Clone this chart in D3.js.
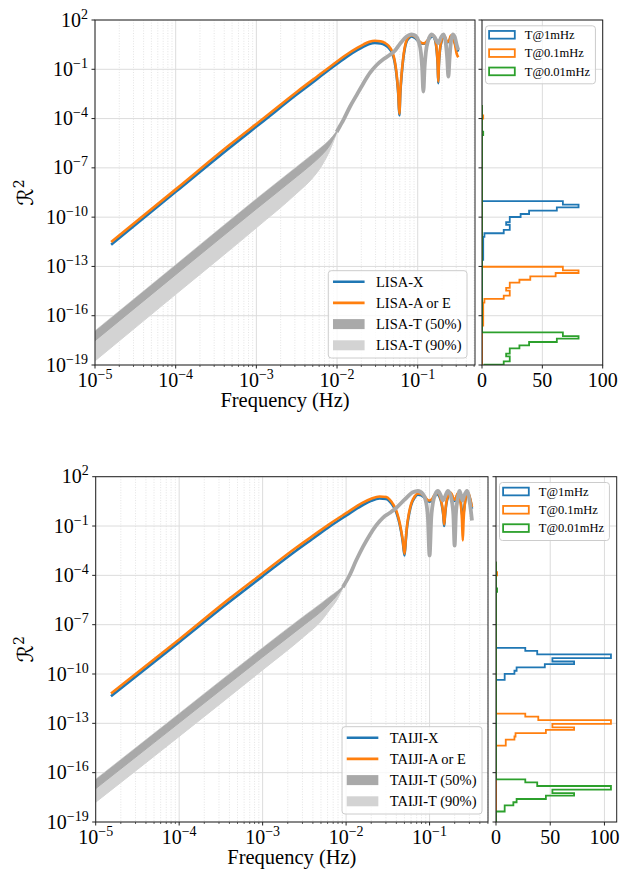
<!DOCTYPE html>
<html>
<head>
<meta charset="utf-8">
<script src="https://cdn.jsdelivr.net/npm/d3@7"></script>
<style>
  body { margin: 0; background: #fff; }
  text { font-family: "Liberation Serif", "DejaVu Serif", serif; fill: #000; }
</style>
</head>
<body>
<svg id="fig" width="633" height="871"></svg>
<script>
// all curve values are log10 of frequency (Hz) and log10 of R^2

var blue = "#1f77b4", orange = "#ff7f0e", green = "#2ca02c";
var darkGray = "#a9a9a9", lightGray = "#d3d3d3";

var yTickExp = [2, -1, -4, -7, -10, -13, -16, -19];
var histTicks = [0, 50, 100];

// ---- LISA ----
var lisaLogF = [-4.80, -4.0, -3.33, -2.91, -2.5, -2.25, -2.09, -1.88, -1.75, -1.67, -1.6, -1.53, -1.46, -1.405, -1.36, -1.323, -1.295, -1.274, -1.255, -1.24, -1.228, -1.215, -1.2, -1.18, -1.16, -1.137, -1.105, -1.075, -1.04, -1.0, -0.96, -0.92, -0.88, -0.845, -0.815, -0.785, -0.765, -0.752, -0.745, -0.738, -0.725, -0.70, -0.68, -0.66, -0.635, -0.61, -0.59, -0.565, -0.54, -0.52, -0.497];
var lisaX = [-11.68, -8.46, -5.77, -4.14, -2.54, -1.6, -1.0, -0.24, 0.16, 0.38, 0.54, 0.6, 0.57, 0.47, 0.3, 0.05, -0.35, -0.9, -1.7, -2.6, -3.8, -2.4, -1.4, -0.4, 0.27, 0.7, 0.92, 1.0, 0.92, 0.76, 0.6, 0.55, 0.68, 0.92, 1.0, 0.78, 0.12, -0.8, -1.85, -0.8, 0.12, 0.77, 0.99, 0.88, 0.64, 0.7, 0.97, 0.9, 0.6, 0.3, 0.07];
var lisaAE = [-11.51, -8.31, -5.6, -3.98, -2.38, -1.45, -0.86, -0.1, 0.3, 0.52, 0.68, 0.74, 0.70, 0.6, 0.42, 0.16, -0.25, -0.8, -1.6, -2.5, -3.7, -2.3, -1.3, -0.3, 0.35, 0.78, 1.0, 1.08, 1.0, 0.82, 0.62, 0.58, 0.75, 1.0, 1.08, 0.85, 0.2, -0.7, -1.75, -0.7, 0.2, 0.85, 1.07, 0.95, 0.68, 0.75, 1.05, 0.95, 0.55, 0.0, -0.27];
var lisaBandLogF = [-5.0, -4.0, -3.0, -2.5, -2.3, -2.2, -2.1, -2.005];
var lisaT50Hi = [-16.97, -12.95, -8.93, -6.98, -6.2, -5.8, -5.36, -4.8];
var lisaT50Lo = [-17.52, -13.5, -9.5, -7.53, -6.72, -6.27, -5.7, -4.86];
var lisaT90Hi = [-16.92, -12.9, -8.88, -6.93, -6.15, -5.76, -5.33, -4.78];
var lisaT90Lo = [-18.75, -14.7, -10.65, -8.55, -7.6, -6.95, -6.05, -4.88];
var lisaTLogF = [-2.005, -1.96, -1.922, -1.84, -1.757, -1.674, -1.59, -1.509, -1.426, -1.344, -1.28, -1.22, -1.16, -1.11, -1.075, -1.03, -0.99, -0.96, -0.945, -0.93, -0.915, -0.90, -0.87, -0.827, -0.79, -0.745, -0.71, -0.68, -0.655, -0.635, -0.62, -0.605, -0.59, -0.567, -0.54, -0.515, -0.497];
var lisaTLine = [-4.82, -4.42, -4.09, -3.28, -2.57, -1.86, -1.21, -0.74, -0.39, -0.12, 0.15, 0.55, 0.9, 1.08, 1.13, 1.05, 0.7, 0.0, -0.9, -2.36, -0.9, 0.0, 0.75, 1.13, 0.95, 0.6, 0.95, 1.13, 0.7, -0.3, -1.45, -0.3, 0.6, 1.13, 0.95, 0.45, 0.17];

// T-channel histograms: log10 bin edges (top to bottom) and counts per bin
var lisaH1Edges = [-9.02, -9.24, -9.40, -9.60, -9.81, -9.99, -10.31, -10.47, -10.78, -10.98, -11.2, -11.6, -12.6];
var lisaH1Counts = [67, 80, 62, 39, 32, 23, 20, 23, 18, 2, 1, 1];
var lisaH01Edges = [-3.8, -4.0, -13.02, -13.24, -13.40, -13.60, -13.81, -13.99, -14.31, -14.47, -14.78, -14.98, -15.2, -15.6, -16.6];
var lisaH01Counts = [1, 0, 67, 80, 61, 40, 31, 23, 20, 23, 18, 2, 1, 1];
var lisaH001Edges = [-4.8, -5.0, -17.02, -17.24, -17.40, -17.60, -17.81, -17.99, -18.31, -18.47, -18.78, -18.98, -19.2];
var lisaH001Counts = [1, 0, 67, 80, 62, 39, 31, 23, 20, 23, 18, 2];

// ---- TAIJI ----
var taijiLogF = [-4.817, -4.0, -3.4, -3.0, -2.6, -2.4, -2.2, -2.0, -1.8, -1.7, -1.6, -1.52, -1.48, -1.44, -1.40, -1.37, -1.34, -1.32, -1.30, -1.285, -1.272, -1.25, -1.22, -1.18, -1.14, -1.10, -1.06, -1.03, -1.0, -0.97, -0.94, -0.91, -0.88, -0.855, -0.835, -0.825, -0.815, -0.80, -0.78, -0.76, -0.735, -0.715, -0.70, -0.685, -0.665, -0.645, -0.625, -0.612, -0.602, -0.592, -0.578, -0.56, -0.535, -0.51, -0.492];
var taijiX = [-11.35, -8.06, -5.62, -4.05, -2.5, -1.77, -1.04, -0.37, 0.28, 0.53, 0.67, 0.64, 0.51, 0.25, -0.15, -0.65, -1.37, -2.0, -2.79, -1.9, -1.16, -0.4, 0.28, 0.72, 0.9, 0.87, 0.72, 0.55, 0.48, 0.58, 0.82, 0.94, 0.77, 0.32, -0.38, -1.0, -0.38, 0.32, 0.77, 0.97, 0.87, 0.62, 0.52, 0.62, 0.9, 0.83, 0.4, -0.2, -0.5, -0.2, 0.35, 0.8, 0.92, 0.55, 0.05];
var taijiAE = [-11.19, -7.9, -5.43, -3.87, -2.32, -1.6, -0.88, -0.22, 0.42, 0.66, 0.80, 0.76, 0.62, 0.35, -0.05, -0.55, -1.27, -1.9, -2.69, -1.8, -1.06, -0.3, 0.36, 0.8, 0.98, 0.95, 0.8, 0.62, 0.55, 0.65, 0.9, 1.02, 0.85, 0.4, -0.3, -0.9, -0.3, 0.4, 0.85, 1.05, 0.95, 0.7, 0.6, 0.7, 0.98, 0.9, 0.3, -0.6, -1.88, -0.6, 0.3, 0.85, 1.0, 0.6, 0.15];
var taijiBandLogF = [-5.0, -4.0, -3.0, -2.5, -2.3, -2.2, -2.1, -2.04];
var taijiT50Hi = [-16.45, -12.45, -8.45, -6.5, -5.75, -5.35, -4.97, -4.7];
var taijiT50Lo = [-16.97, -12.97, -8.97, -7.0, -6.2, -5.72, -5.17, -4.76];
var taijiT90Hi = [-16.4, -12.4, -8.4, -6.45, -5.7, -5.3, -4.93, -4.68];
var taijiT90Lo = [-17.8, -13.8, -9.75, -7.7, -6.78, -6.12, -5.4, -4.78];
var taijiTLogF = [-2.04, -1.96, -1.88, -1.80, -1.72, -1.64, -1.56, -1.48, -1.40, -1.30, -1.2, -1.14, -1.08, -1.04, -1.02, -1.0, -0.98, -0.96, -0.93, -0.90, -0.865, -0.84, -0.81, -0.78, -0.74, -0.715, -0.70, -0.685, -0.665, -0.64, -0.62, -0.605, -0.585, -0.552, -0.52, -0.492];
var taijiTLine = [-4.72, -4.01, -3.1, -2.28, -1.57, -0.96, -0.5, -0.21, 0.1, 0.6, 1.05, 1.13, 0.95, 0.4, -0.5, -2.79, -0.5, 0.4, 0.95, 1.13, 0.85, 0.55, 0.85, 1.13, 0.7, -0.3, -2.18, -0.3, 0.6, 1.13, 0.8, 0.55, 0.85, 1.13, 0.5, -0.66];

var taijiH1Edges = [-8.41, -8.59, -8.81, -9.03, -9.24, -9.40, -9.60, -9.80, -9.99, -10.36];
var taijiH1Counts = [27, 38, 106, 52, 72, 45, 19, 17, 8];
var taijiH01Edges = [-3.8, -4.0, -12.41, -12.59, -12.81, -13.03, -13.24, -13.40, -13.60, -13.80, -13.99, -14.36];
var taijiH01Counts = [1, 0, 27, 39, 106, 52, 72, 46, 18, 17, 9];
var taijiH001Edges = [-4.8, -5.0, -16.41, -16.59, -16.81, -17.03, -17.24, -17.40, -17.60, -17.80, -17.99, -18.36];
var taijiH001Counts = [1, 0, 27, 38, 106, 52, 72, 46, 19, 16, 8];

// range spanned by the histogram bins (log10)
var histRange = [-3.17, -20];

var svg = d3.select("#fig");
var p10 = function(v) { return Math.pow(10, v); };

function zip(fs, vs) {
  return fs.map(function(f, i) { return [p10(f), p10(vs[i])]; });
}
function band(fs, lo, hi) {
  return fs.map(function(f, i) { return { f: p10(f), lo: p10(lo[i]), hi: p10(hi[i]) }; });
}

function expLabel(t, e) {
  t.append("tspan").text("10");
  t.append("tspan").attr("dy", -8).attr("font-size", 14)
    .text(e < 0 ? "\u2212" + (-e) : "" + e);
}

function drawPanel(p) {
  var m = p.main, h = p.hist;
  var x = d3.scaleLog().domain([1e-5, p.xMax]).range([m.l, m.r]);
  var y = d3.scaleLog().domain([1e-19, 1e2]).range([m.b, m.t]);
  var hx = d3.scaleLinear().domain([0, p.histMax]).range([h.l, h.r]);
  var yTicks = yTickExp.map(p10);

  var defs = svg.append("defs");
  defs.append("clipPath").attr("id", "c-" + p.name)
    .append("rect").attr("x", m.l).attr("y", m.t).attr("width", m.r - m.l).attr("height", m.b - m.t);
  defs.append("clipPath").attr("id", "h-" + p.name)
    .append("rect").attr("x", h.l).attr("y", m.t).attr("width", h.r - h.l).attr("height", m.b - m.t);

  var g = svg.append("g");

  // grid
  var xt = x.ticks();
  var isMajor = function(d) { return Math.abs(Math.log10(d) - Math.round(Math.log10(d))) < 1e-6; };
  var minor = xt.filter(function(d) { return !isMajor(d); });
  var major = xt.filter(isMajor);

  g.selectAll(null).data(minor).join("line")
    .attr("x1", x).attr("x2", x).attr("y1", m.t).attr("y2", m.b)
    .attr("stroke", "#dddddd").attr("stroke-width", 0.8).attr("stroke-dasharray", "1,1.6");
  g.selectAll(null).data(major).join("line")
    .attr("x1", x).attr("x2", x).attr("y1", m.t).attr("y2", m.b)
    .attr("stroke", "#dcdcdc").attr("stroke-width", 1);
  g.selectAll(null).data(yTicks).join("line")
    .attr("x1", m.l).attr("x2", m.r).attr("y1", y).attr("y2", y)
    .attr("stroke", "#dcdcdc").attr("stroke-width", 1);

  // hist grid
  g.selectAll(null).data(histTicks).join("line")
    .attr("x1", hx).attr("x2", hx).attr("y1", m.t).attr("y2", m.b)
    .attr("stroke", "#dcdcdc").attr("stroke-width", 1);
  g.selectAll(null).data(yTicks).join("line")
    .attr("x1", h.l).attr("x2", h.r).attr("y1", y).attr("y2", y)
    .attr("stroke", "#dcdcdc").attr("stroke-width", 1);

  // curves
  var plot = g.append("g").attr("clip-path", "url(#c-" + p.name + ")");
  var line = d3.line().x(function(d) { return x(d[0]); }).y(function(d) { return y(d[1]); })
    .curve(d3.curveMonotoneX);
  var area = d3.area().x(function(d) { return x(d.f); })
    .y0(function(d) { return y(d.lo); }).y1(function(d) { return y(d.hi); })
    .curve(d3.curveMonotoneX);

  plot.append("path").attr("d", line(zip(p.logF, p.xVals)))
    .attr("fill", "none").attr("stroke", blue).attr("stroke-width", 2.6);
  plot.append("path").attr("d", line(zip(p.logF, p.aeVals)))
    .attr("fill", "none").attr("stroke", orange).attr("stroke-width", 2.6);
  plot.append("path").attr("d", area(band(p.bandF, p.t90Lo, p.t90Hi)))
    .attr("fill", lightGray).attr("stroke", lightGray).attr("stroke-width", 1);
  plot.append("path").attr("d", area(band(p.bandF, p.t50Lo, p.t50Hi)))
    .attr("fill", darkGray).attr("stroke", darkGray).attr("stroke-width", 1);
  plot.append("path").attr("d", line(zip(p.tF, p.tLine)))
    .attr("fill", "none").attr("stroke", darkGray).attr("stroke-width", 3.8);

  // histograms (step, horizontal)
  var hp = g.append("g").attr("clip-path", "url(#h-" + p.name + ")");
  p.hists.forEach(function(s) {
    var pts = [[0, histRange[0]], [0, s.edges[0]]];
    s.counts.forEach(function(c, i) { pts.push([c, s.edges[i]], [c, s.edges[i + 1]]); });
    pts.push([0, s.edges[s.edges.length - 1]], [0, histRange[1]]);
    hp.append("path")
      .attr("d", "M" + pts.map(function(d) { return hx(d[0]) + "," + y(p10(d[1])); }).join("L"))
      .attr("fill", "none").attr("stroke", s.color).attr("stroke-width", 1.8);
  });

  // spines
  var ax = svg.append("g");
  ax.append("rect").attr("x", m.l).attr("y", m.t).attr("width", m.r - m.l).attr("height", m.b - m.t)
    .attr("fill", "none").attr("stroke", "#222").attr("stroke-width", 1);
  ax.append("rect").attr("x", h.l).attr("y", m.t).attr("width", h.r - h.l).attr("height", m.b - m.t)
    .attr("fill", "none").attr("stroke", "#222").attr("stroke-width", 1);

  // ticks
  ax.selectAll(null).data(major).join("line")
    .attr("x1", x).attr("x2", x).attr("y1", m.b).attr("y2", m.b + 3.5).attr("stroke", "#222");
  ax.selectAll(null).data(minor).join("line")
    .attr("x1", x).attr("x2", x).attr("y1", m.b).attr("y2", m.b + 2).attr("stroke", "#222").attr("stroke-width", 0.7);
  ax.selectAll(null).data(yTicks).join("line")
    .attr("x1", m.l - 3.5).attr("x2", m.l).attr("y1", y).attr("y2", y).attr("stroke", "#222");
  ax.selectAll(null).data(yTicks).join("line")
    .attr("x1", h.l - 3.5).attr("x2", h.l).attr("y1", y).attr("y2", y).attr("stroke", "#222");
  ax.selectAll(null).data(histTicks).join("line")
    .attr("x1", hx).attr("x2", hx).attr("y1", m.b).attr("y2", m.b + 3.5).attr("stroke", "#222");

  // tick labels
  major.forEach(function(d) {
    var t = ax.append("text").attr("x", x(d)).attr("y", m.b + 21.5)
      .attr("text-anchor", "middle").attr("font-size", 20);
    expLabel(t, Math.round(Math.log10(d)));
  });
  yTickExp.forEach(function(e) {
    var t = ax.append("text").attr("x", m.l - 7).attr("y", y(p10(e)) + 6.5)
      .attr("text-anchor", "end").attr("font-size", 20);
    expLabel(t, e);
  });
  histTicks.forEach(function(d) {
    ax.append("text").attr("x", hx(d)).attr("y", m.b + 22)
      .attr("text-anchor", "middle").attr("font-size", 20).text(d);
  });

  // axis labels
  ax.append("text").attr("x", (m.l + m.r) / 2).attr("y", m.b + 42)
    .attr("text-anchor", "middle").attr("font-size", 20.5).text("Frequency (Hz)");
  var yl = ax.append("text")
    .attr("transform", "translate(33," + (m.t + m.b) / 2 + ") rotate(-90)")
    .attr("text-anchor", "middle").attr("font-size", 22)
    .style("font-family", '"DejaVu Serif", "DejaVu Sans", serif').style("font-style", "italic");
  yl.append("tspan").text("\u211B");
  yl.append("tspan").attr("dy", -9).attr("font-size", 14).style("font-style", "normal").text("2");

  // main legend
  var lg = svg.append("g");
  var box = lg.append("rect").attr("fill", "#fff").attr("fill-opacity", 0.8)
    .attr("stroke", "#cccccc").attr("stroke-width", 1).attr("rx", 3);
  var maxW = 0, rowH = 21.2, bh = 87.3;
  var top = m.b - p.legendBottom - bh;
  var texts = p.legend.map(function(it, i) {
    var t = lg.append("text").attr("y", top + 11 + i * rowH + 5).attr("font-size", 14.5).text(it.label);
    maxW = Math.max(maxW, t.node().getComputedTextLength());
    return t;
  });
  var bw = 4.7 + 31.6 + 11.4 + maxW + 5.5;
  var left = m.r - p.legendRight - bw;
  box.attr("x", left).attr("y", top).attr("width", bw).attr("height", bh);
  p.legend.forEach(function(it, i) {
    var cy = top + 11 + i * rowH;
    texts[i].attr("x", left + 4.7 + 31.6 + 11.4);
    if (it.type === "line") {
      lg.append("line").attr("x1", left + 4.7).attr("x2", left + 36.3).attr("y1", cy).attr("y2", cy)
        .attr("stroke", it.color).attr("stroke-width", 2.6);
    } else {
      lg.append("rect").attr("x", left + 4.7).attr("y", cy - 5).attr("width", 31.6).attr("height", 10)
        .attr("fill", it.color);
    }
  });

  // histogram legend
  var hl = svg.append("g");
  var hbox = hl.append("rect").attr("fill", "#fff").attr("fill-opacity", 0.8)
    .attr("stroke", "#cccccc").attr("stroke-width", 1).attr("rx", 3);
  var hleft = h.l + 3.5, htop = m.t + 5.8, hmax = 0;
  p.hists.forEach(function(s, i) {
    var cy = htop + 9 + i * 18.3;
    hl.append("rect").attr("x", hleft + 3.6).attr("y", cy - 3.85).attr("width", 25.7).attr("height", 7.7)
      .attr("fill", "none").attr("stroke", s.color).attr("stroke-width", 1.8);
    var t = hl.append("text").attr("x", hleft + 39.3).attr("y", cy + 4.3).attr("font-size", 12.5).text(s.label);
    hmax = Math.max(hmax, t.node().getComputedTextLength());
  });
  hbox.attr("x", hleft).attr("y", htop).attr("width", 39.3 + hmax + 5.3).attr("height", 58);
}

var panels = [
  {
    name: "lisa",
    main: { l: 95, r: 475, t: 20, b: 365 },
    hist: { l: 482, r: 602.7 },
    xMax: p10(-0.29), histMax: 100,
    logF: lisaLogF, xVals: lisaX, aeVals: lisaAE,
    bandF: lisaBandLogF, t50Lo: lisaT50Lo, t50Hi: lisaT50Hi, t90Lo: lisaT90Lo, t90Hi: lisaT90Hi,
    tF: lisaTLogF, tLine: lisaTLine,
    legendRight: 8, legendBottom: 7,
    legend: [
      { label: "LISA-X", type: "line", color: blue },
      { label: "LISA-A or E", type: "line", color: orange },
      { label: "LISA-T (50%)", type: "patch", color: darkGray },
      { label: "LISA-T (90%)", type: "patch", color: lightGray }
    ],
    hists: [
      { label: "T@1mHz", color: blue, edges: lisaH1Edges, counts: lisaH1Counts },
      { label: "T@0.1mHz", color: orange, edges: lisaH01Edges, counts: lisaH01Counts },
      { label: "T@0.01mHz", color: green, edges: lisaH001Edges, counts: lisaH001Counts }
    ]
  },
  {
    name: "taiji",
    main: { l: 95.7, r: 488, t: 476.7, b: 822 },
    hist: { l: 496, r: 616.7 },
    xMax: p10(-0.30), histMax: 111.3,
    logF: taijiLogF, xVals: taijiX, aeVals: taijiAE,
    bandF: taijiBandLogF, t50Lo: taijiT50Lo, t50Hi: taijiT50Hi, t90Lo: taijiT90Lo, t90Hi: taijiT90Hi,
    tF: taijiTLogF, tLine: taijiTLine,
    legendRight: 6, legendBottom: 8,
    legend: [
      { label: "TAIJI-X", type: "line", color: blue },
      { label: "TAIJI-A or E", type: "line", color: orange },
      { label: "TAIJI-T (50%)", type: "patch", color: darkGray },
      { label: "TAIJI-T (90%)", type: "patch", color: lightGray }
    ],
    hists: [
      { label: "T@1mHz", color: blue, edges: taijiH1Edges, counts: taijiH1Counts },
      { label: "T@0.1mHz", color: orange, edges: taijiH01Edges, counts: taijiH01Counts },
      { label: "T@0.01mHz", color: green, edges: taijiH001Edges, counts: taijiH001Counts }
    ]
  }
];

panels.forEach(drawPanel);
</script>
</body>
</html>
